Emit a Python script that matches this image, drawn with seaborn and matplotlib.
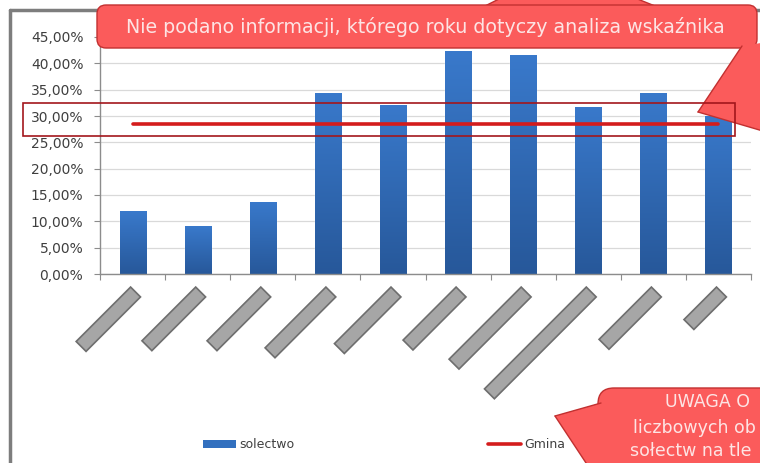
import numpy as np
import pandas as pd
import matplotlib
matplotlib.use("Agg")
import matplotlib.pyplot as plt
import seaborn as sns
from matplotlib.patches import Rectangle, FancyBboxPatch, Polygon, Patch
from matplotlib.lines import Line2D
from matplotlib.transforms import Affine2D, ScaledTranslation, IdentityTransform
from matplotlib.ticker import FuncFormatter
from matplotlib.colors import LinearSegmentedColormap

# =====================================================
# DATA
# =====================================================

# village names are covered by grey boxes in the source picture
categories = ["S01", "S02", "S03", "S04", "S05", "S06", "S07", "S08", "S09", "S10"]
solectwo_values = [0.119, 0.091, 0.137, 0.343, 0.321, 0.423, 0.415, 0.318, 0.344, 0.300]
gmina_value = 0.285
y_ticks = [0.0, 0.05, 0.10, 0.15, 0.20, 0.25, 0.30, 0.35, 0.40, 0.45]

# length (px) of the grey boxes hiding the category labels
label_box_lengths = [77, 76, 76, 86, 80, 75, 102, 144, 74, 46]

callout_top_text = "Nie podano informacji, którego roku dotyczy analiza wskaźnika"
callout_bottom_lines = ["UWAGA O", "liczbowych ob", "sołectw na tle"]

# =====================================================
# FIGURE
# =====================================================

W, H = 760, 463
sns.set_style("white")
plt.rcParams["font.family"] = ["DejaVu Sans"]

fig = plt.figure(figsize=(W / 100, H / 100), dpi=100)
fig.patch.set_facecolor("white")

# plot area in pixels: x 100..751, y 37..274
ax = fig.add_axes([100 / W, 1 - 274 / H, 651 / W, 237 / H])

df = pd.DataFrame({"solectwo": categories, "wartosc": solectwo_values})
sns.barplot(
    data=df,
    x="solectwo",
    y="wartosc",
    color="#3270bf",
    saturation=1,
    width=0.4,
    ax=ax,
    zorder=2
)

# excel-like vertical gradient on the bars
bar_cmap = LinearSegmentedColormap.from_list("bar", ["#27589a", "#3979cb"])
grad = np.linspace(0, 1, 128).reshape(-1, 1)
for bar in ax.patches:
    x0 = bar.get_x()
    w = bar.get_width()
    h = bar.get_height()
    img = ax.imshow(
        grad,
        extent=[x0, x0 + w, 0, h],
        origin="lower",
        aspect="auto",
        cmap=bar_cmap,
        zorder=2.1
    )
    img.set_clip_path(bar)

# gmina line
sns.lineplot(
    x=list(range(len(categories))),
    y=[gmina_value] * len(categories),
    color="#d41c1c",
    linewidth=2.6,
    ax=ax,
    zorder=4
)

ax.set_xlim(-0.5, len(categories) - 0.5)
ax.set_ylim(0, 0.45)
ax.set_yticks(y_ticks)
ax.yaxis.set_major_formatter(
    FuncFormatter(lambda v, p: f"{v * 100:.2f}%".replace(".", ","))
)
ax.set_xticks(np.arange(-0.5, len(categories), 1))
ax.set_xticklabels([])
ax.set_xlabel("")
ax.set_ylabel("")

ax.grid(axis="y", color="#d9d9d9", linewidth=0.9, zorder=0)
ax.set_axisbelow(True)
for s in ["top", "right"]:
    ax.spines[s].set_visible(False)
for s in ["left", "bottom"]:
    ax.spines[s].set_color("#8c8c8c")
    ax.spines[s].set_linewidth(1.0)
ax.tick_params(axis="y", length=4, pad=8, color="#8c8c8c",
               labelsize=10, labelcolor="#3f3f3f", direction="out", left=True)
ax.tick_params(axis="x", length=4, color="#8c8c8c", direction="out", bottom=True)

# =====================================================
# GREY BOXES OVER THE CATEGORY LABELS
# =====================================================

for i, L in enumerate(label_box_lengths):
    tr = Affine2D().rotate_deg(45).translate(3, -18) + ScaledTranslation(i, 0, ax.transData)
    fig.add_artist(Rectangle(
        (-L, -7), L, 14,
        transform=tr,
        facecolor="#a6a6a6",
        edgecolor="#6e6e6e",
        linewidth=1.2,
        zorder=3
    ))

# =====================================================
# ANNOTATIONS (pixel coordinates, image y down)
# =====================================================

PIX = IdentityTransform()


def px(x, y):
    return (x, H - y)


RED = "#fb5b5b"
RED_EDGE = "#c23030"
CALLOUT_FONT = ["DejaVu Sans"]

# outer grey frame
fig.add_artist(Line2D([10, 10], [0, H - 10], color="#7d7d7d", linewidth=2.5, transform=PIX))
fig.add_artist(Line2D([10, W], [H - 10, H - 10], color="#7d7d7d", linewidth=2.5, transform=PIX))


def pointer(tip, a, b, inner):
    # filled pointer drawn over the box, outline only on its two outer edges
    fig.add_artist(Polygon([px(*a), px(*tip), px(*b), px(*inner)], closed=True,
                           facecolor=RED, edgecolor="none", transform=PIX, zorder=9.5))
    for end in (a, b):
        p0, p1 = px(*tip), px(*end)
        fig.add_artist(Line2D([p0[0], p1[0]], [p0[1], p1[1]], color=RED_EDGE,
                              linewidth=1, transform=PIX, zorder=9.6))


# top callout with pointers
x0, y0 = px(97, 48)
fig.add_artist(FancyBboxPatch((x0, y0), 660, 43,
                              boxstyle="round,pad=0,rounding_size=9",
                              facecolor=RED, edgecolor=RED_EDGE,
                              linewidth=1, transform=PIX, zorder=9))
fig.add_artist(Polygon([px(485, 6), px(505, -4), px(630, -4), px(655, 6)],
                       closed=True, facecolor=RED, edgecolor=RED_EDGE,
                       linewidth=1, transform=PIX, zorder=8))
pointer((698, 112), (742, 46), (780, 136), (780, 40))
fig.text(425 / W, 1 - 27 / H, callout_top_text, ha="center", va="center",
         fontsize=13.7, color="#fde4e4", family=CALLOUT_FONT, zorder=10)

# highlight rectangle around the gmina line
x0, y0 = px(23, 136)
fig.add_artist(Rectangle((x0, y0), 712, 33, facecolor="none",
                         edgecolor="#a3161c", linewidth=1.2,
                         transform=PIX, zorder=11))

# bottom-right callout
x0, y0 = px(598, 520)
fig.add_artist(FancyBboxPatch((x0, y0), 220, 132,
                              boxstyle="round,pad=0,rounding_size=16",
                              facecolor=RED, edgecolor=RED_EDGE,
                              linewidth=1, transform=PIX, zorder=9))
pointer((555, 416), (601, 403), (594, 475), (610, 440))
for (tx, ty), line in zip([(665, 402), (633, 428), (630, 451)], callout_bottom_lines):
    fig.text(tx / W, 1 - ty / H, line, ha="left", va="center",
             fontsize=12.5, color="#fde4e4", family=CALLOUT_FONT, zorder=10)

# =====================================================
# LEGEND
# =====================================================

handles = [
    Patch(facecolor="#3270bf", edgecolor="none"),
    Line2D([], [], color="#d41c1c", linewidth=2.6)
]
leg = fig.legend(
    handles,
    ["solectwo", "Gmina"],
    ncol=2,
    loc="center left",
    bbox_to_anchor=(203 / W, 1 - 445 / H),
    frameon=False,
    fontsize=9,
    handlelength=2.6,
    handleheight=0.6,
    handletextpad=0.3,
    columnspacing=15.5,
    borderpad=0,
    borderaxespad=0
)
for t in leg.get_texts():
    t.set_color("#404040")

plt.savefig("out.png", dpi=100)
plt.close()
